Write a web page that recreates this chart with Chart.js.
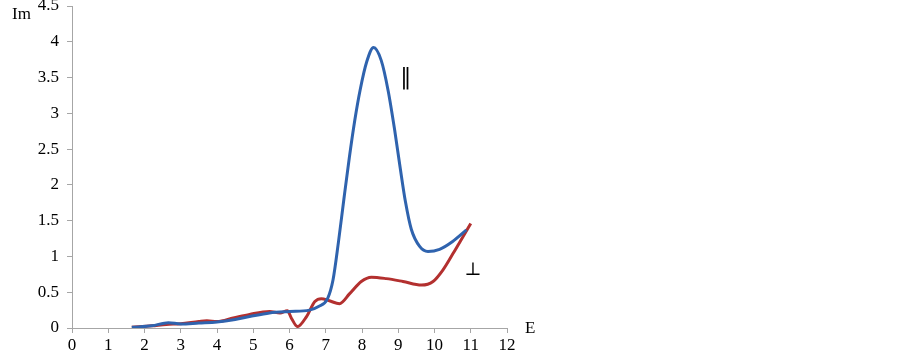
<!DOCTYPE html>
<html>
<head>
<meta charset="utf-8">
<script src="https://cdn.jsdelivr.net/npm/chart.js@4/dist/chart.umd.min.js"></script>
<style>
html,body{margin:0;padding:0;background:#fff;}
#wrap{width:903px;height:363px;position:relative;}
</style>
</head>
<body>
<div id="wrap"><canvas id="c" width="903" height="363"></canvas></div>
<script>
// Photon energy E (x) and Im values (y) for the two polarizations
const parallelE  = [1.65, 2.2, 2.66, 3.0, 3.5, 4.0, 4.5, 4.9, 5.45, 6.0, 6.55, 6.8, 7.05, 7.2, 7.35, 7.5, 7.65, 7.8, 7.95, 8.13, 8.32, 8.53, 8.72, 8.9, 9.05, 9.2, 9.36, 9.59, 9.82, 10.14, 10.5, 10.88];
const parallelIm = [0.01, 0.03, 0.075, 0.055, 0.07, 0.085, 0.12, 0.16, 0.21, 0.23, 0.25, 0.30, 0.41, 0.67, 1.2, 1.8, 2.38, 2.9, 3.33, 3.72, 3.92, 3.74, 3.32, 2.77, 2.25, 1.76, 1.38, 1.14, 1.07, 1.10, 1.21, 1.37];
const perpE  = [1.65, 2.2, 2.6, 3.0, 3.5, 3.72, 4.0, 4.45, 4.9, 5.45, 5.74, 5.94, 6.06, 6.22, 6.47, 6.7, 6.88, 7.1, 7.38, 7.66, 7.98, 8.26, 8.67, 9.13, 9.64, 9.96, 10.23, 10.51, 10.79, 11.0];
const perpIm = [0.01, 0.03, 0.05, 0.06, 0.09, 0.10, 0.09, 0.14, 0.19, 0.23, 0.21, 0.24, 0.13, 0.02, 0.16, 0.37, 0.41, 0.38, 0.34, 0.48, 0.65, 0.71, 0.69, 0.65, 0.60, 0.65, 0.81, 1.04, 1.28, 1.46];
const xTicks = [0,1,2,3,4,5,6,7,8,9,10,11,12];
const yTicks = [0,0.5,1,1.5,2,2.5,3,3.5,4,4.5];
const labels = [
  {text: '\u2016', e: 9.21, im: 3.49},
  {text: '\u22A5', e: 11.06, im: 0.80}
];

const toPts = (xs, ys) => xs.map((x, i) => ({x: x, y: ys[i]}));
const FONT = '"Liberation Serif", "Times New Roman", serif';

const textPlugin = {
  id: 'texts',
  afterDraw(chart) {
    const ctx = chart.ctx, xs = chart.scales.x, ys = chart.scales.y, ca = chart.chartArea;
    ctx.save();
    ctx.fillStyle = '#000';
    ctx.textBaseline = 'middle';
    ctx.textAlign = 'center';
    ctx.font = '22px "DejaVu Serif", serif';
    ctx.fillText(labels[0].text, xs.getPixelForValue(labels[0].e), ys.getPixelForValue(labels[0].im));
    ctx.font = '18px "DejaVu Serif", serif';
    ctx.fillText(labels[1].text, xs.getPixelForValue(labels[1].e), ys.getPixelForValue(labels[1].im));
    ctx.font = '17px ' + FONT;
    ctx.textAlign = 'left';
    ctx.fillText('Im', ca.left - 60, ca.top + 9);
    ctx.fillText('E', ca.right + 18, ca.bottom + 1);
    ctx.restore();
  }
};

new Chart(document.getElementById('c'), {
  type: 'line',
  data: {
    datasets: [
      {label: '\u2016', data: toPts(parallelE, parallelIm), borderColor: '#2f63ae', borderWidth: 3, pointRadius: 0, cubicInterpolationMode: 'monotone', fill: false},
      {label: '\u22A5', data: toPts(perpE, perpIm), borderColor: '#b3302f', borderWidth: 3, pointRadius: 0, cubicInterpolationMode: 'monotone', fill: false}
    ]
  },
  options: {
    responsive: false,
    animation: false,
    layout: {padding: {left: 0, top: 6, right: 396, bottom: 0}},
    plugins: {legend: {display: false}, tooltip: {enabled: false}},
    scales: {
      x: {
        type: 'linear', min: 0, max: 12,
        afterBuildTicks: s => { s.ticks = xTicks.map(v => ({value: v})); },
        afterFit: s => { s.height = 35; s.paddingLeft = 0; s.paddingRight = 0; },
        grid: {drawOnChartArea: false, tickLength: 5, color: '#a6a6a6'},
        border: {color: '#a6a6a6', width: 1},
        ticks: {color: '#000', font: {family: FONT, size: 17}, padding: 2, maxRotation: 0, callback: v => String(v)}
      },
      y: {
        type: 'linear', min: 0, max: 4.5,
        afterBuildTicks: s => { s.ticks = yTicks.map(v => ({value: v})); },
        afterFit: s => { s.width = 72; s.paddingTop = 0; s.paddingBottom = 0; },
        grid: {drawOnChartArea: false, tickLength: 5, color: '#a6a6a6'},
        border: {color: '#a6a6a6', width: 1},
        ticks: {color: '#000', font: {family: FONT, size: 17}, padding: 8, callback: v => String(v)}
      }
    }
  },
  plugins: [textPlugin]
});
</script>
</body>
</html>
